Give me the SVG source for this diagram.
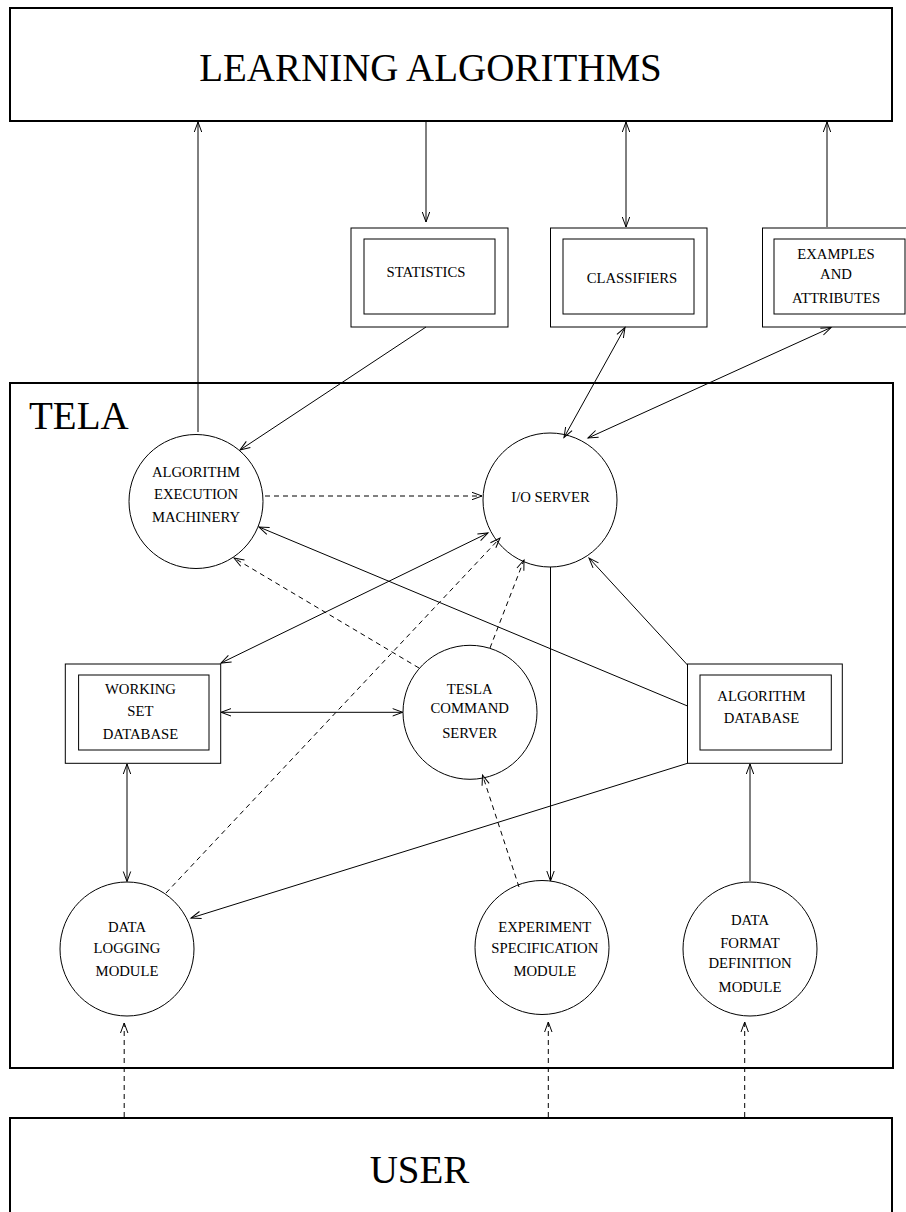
<svg xmlns="http://www.w3.org/2000/svg" width="906" height="1212" viewBox="0 0 906 1212">
<defs>
<style>
.big{fill:none;stroke:#000;stroke-width:2}
.box{fill:#fff;stroke:#000;stroke-width:1}
.node{fill:#fff;stroke:#000;stroke-width:1}
.t{font-family:"Liberation Serif","Times New Roman",serif;font-size:14.7px;text-anchor:middle;fill:#000}
.T{font-family:"Liberation Serif","Times New Roman",serif;font-size:39px;fill:#000}
.c{fill:none;stroke:#000;stroke-width:1}
.d{fill:none;stroke:#000;stroke-width:1;stroke-dasharray:5,4}
.e{marker-end:url(#ah)}
.b{marker-start:url(#ah);marker-end:url(#ah)}
</style>
<marker id="ah" markerUnits="userSpaceOnUse" markerWidth="14" markerHeight="10" refX="10" refY="4" orient="auto-start-reverse" overflow="visible">
<path d="M0,0.3 L10,4 L0,7.7" fill="none" stroke="#000" stroke-width="1"/>
</marker>
</defs>
<rect width="906" height="1212" fill="#fff"/>

<g id="learning">
<rect class="big" x="10" y="8" width="882" height="113"/>
<text class="T" x="430.5" y="81" text-anchor="middle">LEARNING ALGORITHMS</text>
</g>

<g id="tela">
<rect class="big" x="10" y="383" width="883" height="685"/>
<text class="T" x="29" y="429">TELA</text>
</g>

<g id="user">
<rect class="big" x="10" y="1118" width="882" height="110"/>
<text class="T" x="419.5" y="1183" text-anchor="middle">USER</text>
</g>

<g id="statistics">
<rect class="box" x="351" y="228" width="157" height="99"/>
<rect class="box" x="364" y="239" width="131" height="75"/>
<text class="t" x="426" y="277">STATISTICS</text>
</g>

<g id="classifiers">
<rect class="box" x="550.5" y="228" width="156.5" height="99"/>
<rect class="box" x="563" y="239" width="131" height="75"/>
<text class="t" x="632" y="283">CLASSIFIERS</text>
</g>

<g id="examples">
<rect class="box" x="762.5" y="228" width="156" height="99"/>
<rect class="box" x="774" y="239" width="131" height="75"/>
<text class="t" x="836" y="259.3">EXAMPLES</text>
<text class="t" x="836" y="279.3">AND</text>
<text class="t" x="836" y="303.3">ATTRIBUTES</text>
</g>

<g id="aem">
<circle class="node" cx="196" cy="501.5" r="67"/>
<text class="t" x="196" y="476.7">ALGORITHM</text>
<text class="t" x="196" y="499.3">EXECUTION</text>
<text class="t" x="196" y="521.7">MACHINERY</text>
</g>

<g id="ioserver">
<circle class="node" cx="550" cy="500" r="67"/>
<text class="t" x="550.5" y="501.7">I/O SERVER</text>
</g>

<g id="workingset">
<rect class="box" x="65.3" y="664" width="155.4" height="99.3"/>
<rect class="box" x="78.6" y="675" width="130.4" height="75"/>
<text class="t" x="140.4" y="694.3">WORKING</text>
<text class="t" x="140.4" y="715.7">SET</text>
<text class="t" x="140.4" y="738.7">DATABASE</text>
</g>

<g id="tesla">
<circle class="node" cx="470" cy="712.3" r="67"/>
<text class="t" x="469.7" y="694.3">TESLA</text>
<text class="t" x="469.7" y="713.3">COMMAND</text>
<text class="t" x="469.7" y="738.3">SERVER</text>
</g>

<g id="algdb">
<rect class="box" x="687.5" y="664" width="154.8" height="99.3"/>
<rect class="box" x="700" y="675" width="131.3" height="75"/>
<text class="t" x="761.4" y="701">ALGORITHM</text>
<text class="t" x="761.4" y="723.3">DATABASE</text>
</g>

<g id="datalogging">
<circle class="node" cx="127" cy="949" r="67"/>
<text class="t" x="127" y="931.7">DATA</text>
<text class="t" x="127" y="952.7">LOGGING</text>
<text class="t" x="127" y="975.7">MODULE</text>
</g>

<g id="experiment">
<circle class="node" cx="542" cy="947.5" r="67"/>
<text class="t" x="544.8" y="931.7">EXPERIMENT</text>
<text class="t" x="544.8" y="953.3">SPECIFICATION</text>
<text class="t" x="544.8" y="975.7">MODULE</text>
</g>

<g id="dataformat">
<circle class="node" cx="750" cy="949" r="67"/>
<text class="t" x="750" y="925">DATA</text>
<text class="t" x="750" y="948.3">FORMAT</text>
<text class="t" x="750" y="968.3">DEFINITION</text>
<text class="t" x="750" y="991.7">MODULE</text>
</g>

<g id="connectors">
<path class="c e" d="M198,432 L198,122"/>
<path class="c e" d="M426,122 L426,222"/>
<path class="c b" d="M626,122 L626,227"/>
<path class="c e" d="M827,227 L827,122"/>
<path class="c e" d="M426,327 L240,450"/>
<path class="c b" d="M625,327.5 L564,437.5"/>
<path class="c b" d="M831,327.5 L588,438"/>
<path class="d e" d="M265,496 L482,496"/>
<path class="c b" d="M488,533 L221,663"/>
<path class="c e" d="M687.5,706 L259,527"/>
<path class="d e" d="M419,668 L234,558"/>
<path class="d e" d="M166,893 L500,538"/>
<path class="d e" d="M490,648 L524,560"/>
<path class="c e" d="M550.5,567 L550.5,881"/>
<path class="c e" d="M687.5,665 L589,558"/>
<path class="c b" d="M221,712.3 L402.7,712.3"/>
<path class="c b" d="M127,764 L127,881.5"/>
<path class="c e" d="M687.5,763.3 L191,918"/>
<path class="d e" d="M519,887 L482.5,775"/>
<path class="c e" d="M750,881 L750,764"/>
<path class="d e" d="M124.2,1117 L124.2,1023"/>
<path class="d e" d="M548.3,1117 L548.3,1022"/>
<path class="d e" d="M744.7,1117 L744.7,1022"/>
</g>
</svg>
